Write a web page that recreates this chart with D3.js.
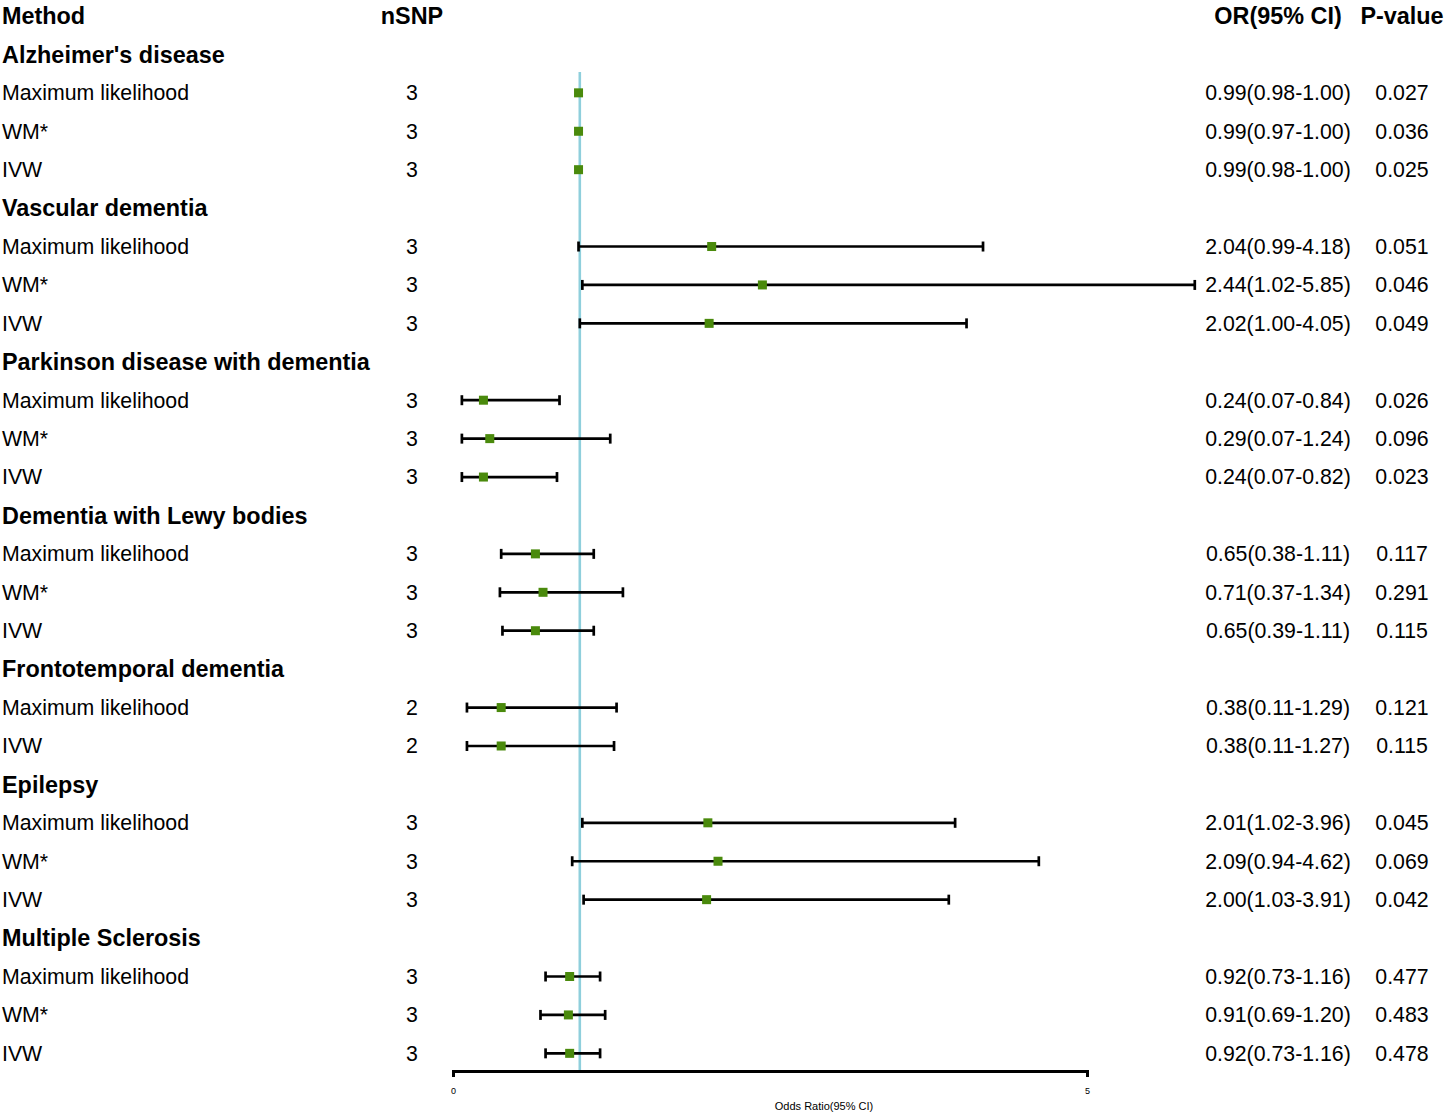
<!DOCTYPE html>
<html>
<head>
<meta charset="utf-8">
<script src="https://cdn.jsdelivr.net/npm/d3@7"></script>
<style>
  html, body { margin: 0; padding: 0; background: #fff; }
  svg { display: block; font-family: "Liberation Sans", Arial, sans-serif; }
</style>
</head>
<body>
<svg id="chart" width="1448" height="1119"></svg>
<script>
// ---------- data ----------
const headers = ["Method", "nSNP", "OR(95% CI)", "P-value"];
const groups = [
  "Alzheimer's disease",
  "Vascular dementia",
  "Parkinson disease with dementia",
  "Dementia with Lewy bodies",
  "Frontotemporal dementia",
  "Epilepsy",
  "Multiple Sclerosis"
];
const rowGroup = [0,0,0, 1,1,1, 2,2,2, 3,3,3, 4,4, 5,5,5, 6,6,6];
const methods = [
  "Maximum likelihood","WM*","IVW",
  "Maximum likelihood","WM*","IVW",
  "Maximum likelihood","WM*","IVW",
  "Maximum likelihood","WM*","IVW",
  "Maximum likelihood","IVW",
  "Maximum likelihood","WM*","IVW",
  "Maximum likelihood","WM*","IVW"
];
const nSNP = [3,3,3, 3,3,3, 3,3,3, 3,3,3, 2,2, 3,3,3, 3,3,3];
const orVals = [0.99,0.99,0.99, 2.04,2.44,2.02, 0.24,0.29,0.24, 0.65,0.71,0.65, 0.38,0.38, 2.01,2.09,2.00, 0.92,0.91,0.92];
const loVals = [0.98,0.97,0.98, 0.99,1.02,1.00, 0.07,0.07,0.07, 0.38,0.37,0.39, 0.11,0.11, 1.02,0.94,1.03, 0.73,0.69,0.73];
const hiVals = [1.00,1.00,1.00, 4.18,5.85,4.05, 0.84,1.24,0.82, 1.11,1.34,1.11, 1.29,1.27, 3.96,4.62,3.91, 1.16,1.20,1.16];
const pVals = ["0.027","0.036","0.025","0.051","0.046","0.049","0.026","0.096","0.023",
               "0.117","0.291","0.115","0.121","0.115","0.045","0.069","0.042","0.477","0.483","0.478"];
const xTicks = [0, 5];
const xDomain = [0, 5];
const refValue = 1;
const xLabel = "Odds Ratio(95% CI)";

// ---------- layout: build display rows ----------
const displayRows = [];
let prev = -1;
methods.forEach((m, i) => {
  if (rowGroup[i] !== prev) {
    displayRows.push({ type: "group", label: groups[rowGroup[i]] });
    prev = rowGroup[i];
  }
  displayRows.push({
    type: "data", method: m, n: nSNP[i], or: orVals[i], lo: loVals[i], hi: hiVals[i], p: pVals[i]
  });
});
displayRows.forEach((r, i) => r.k = i + 1);

const svg = d3.select("#chart");
const y = d3.scalePoint()
  .domain(d3.range(0, displayRows.length + 1))
  .range([16, 16 + displayRows.length * 38.42]);
const x = d3.scaleLinear().domain(xDomain).range([453, 1087]);

const colX = { method: 2, nsnp: 412, or: 1278, p: 1402 };
const regFont = 21.3, boldFont = 23.4;
const axisY = 1071;

// headers
const hdr = svg.append("g").attr("font-weight", "bold").attr("font-size", boldFont).attr("fill", "#000");
hdr.append("text").attr("x", colX.method).attr("y", y(0)).attr("dy", "0.35em").text(headers[0]);
hdr.append("text").attr("x", colX.nsnp).attr("y", y(0)).attr("dy", "0.35em").attr("text-anchor", "middle").text(headers[1]);
hdr.append("text").attr("x", colX.or).attr("y", y(0)).attr("dy", "0.35em").attr("text-anchor", "middle").text(headers[2]);
hdr.append("text").attr("x", colX.p).attr("y", y(0)).attr("dy", "0.35em").attr("text-anchor", "middle").text(headers[3]);

// group labels
svg.append("g").selectAll("text")
  .data(displayRows.filter(d => d.type === "group"))
  .join("text")
  .attr("x", colX.method).attr("y", d => y(d.k)).attr("dy", "0.35em")
  .attr("font-weight", "bold").attr("font-size", boldFont)
  .text(d => d.label);

const data = displayRows.filter(d => d.type === "data");
const txt = svg.append("g").attr("font-size", regFont).attr("fill", "#000");
txt.selectAll("text.m").data(data).join("text").attr("class", "m")
  .attr("x", colX.method).attr("y", d => y(d.k)).attr("dy", "0.35em").text(d => d.method);
txt.selectAll("text.n").data(data).join("text").attr("class", "n")
  .attr("x", colX.nsnp).attr("y", d => y(d.k)).attr("dy", "0.35em").attr("text-anchor", "middle").text(d => d.n);
txt.selectAll("text.o").data(data).join("text").attr("class", "o")
  .attr("x", colX.or).attr("y", d => y(d.k)).attr("dy", "0.35em").attr("text-anchor", "middle")
  .text(d => `${d.or.toFixed(2)}(${d.lo.toFixed(2)}-${d.hi.toFixed(2)})`);
txt.selectAll("text.p").data(data).join("text").attr("class", "p")
  .attr("x", colX.p).attr("y", d => y(d.k)).attr("dy", "0.35em").attr("text-anchor", "middle").text(d => d.p);

// reference line
svg.append("line")
  .attr("x1", x(refValue)).attr("x2", x(refValue))
  .attr("y1", 72).attr("y2", axisY)
  .attr("stroke", "#8fcfdc").attr("stroke-width", 2.6);

// CI lines
const ci = svg.append("g").attr("stroke", "#000").attr("stroke-width", 2.7);
ci.selectAll("line.ci").data(data).join("line").attr("class", "ci")
  .attr("x1", d => x(d.lo)).attr("x2", d => x(d.hi))
  .attr("y1", d => y(d.k)).attr("y2", d => y(d.k));
ci.selectAll("line.capL").data(data.filter(d => d.hi - d.lo > 0.1)).join("line").attr("class", "capL")
  .attr("x1", d => x(d.lo)).attr("x2", d => x(d.lo))
  .attr("y1", d => y(d.k) - 5).attr("y2", d => y(d.k) + 5);
ci.selectAll("line.capR").data(data.filter(d => d.hi - d.lo > 0.1)).join("line").attr("class", "capR")
  .attr("x1", d => x(d.hi)).attr("x2", d => x(d.hi))
  .attr("y1", d => y(d.k) - 5).attr("y2", d => y(d.k) + 5);

// points
const sq = 9;
svg.append("g").selectAll("rect").data(data).join("rect")
  .attr("x", d => x(d.or) - sq / 2).attr("y", d => y(d.k) - sq / 2)
  .attr("width", sq).attr("height", sq)
  .attr("fill", "#4a8a0c");

// axis
const axis = d3.axisBottom(x).tickValues(xTicks).tickFormat(d3.format("d"))
  .tickSizeInner(6).tickSizeOuter(6).tickPadding(11);
const ag = svg.append("g").attr("transform", `translate(0,${axisY})`).call(axis);
ag.select(".domain").attr("stroke", "#000").attr("stroke-width", 3);
ag.selectAll(".tick line").attr("stroke", "#000").attr("stroke-width", 3);
ag.selectAll(".tick text").attr("font-size", 9).attr("font-family", "Liberation Sans, Arial, sans-serif").attr("fill", "#000");

svg.append("text").attr("x", 824).attr("y", 1106).attr("dy", "0.35em")
  .attr("text-anchor", "middle").attr("font-size", 11).text(xLabel);
</script>
</body>
</html>
